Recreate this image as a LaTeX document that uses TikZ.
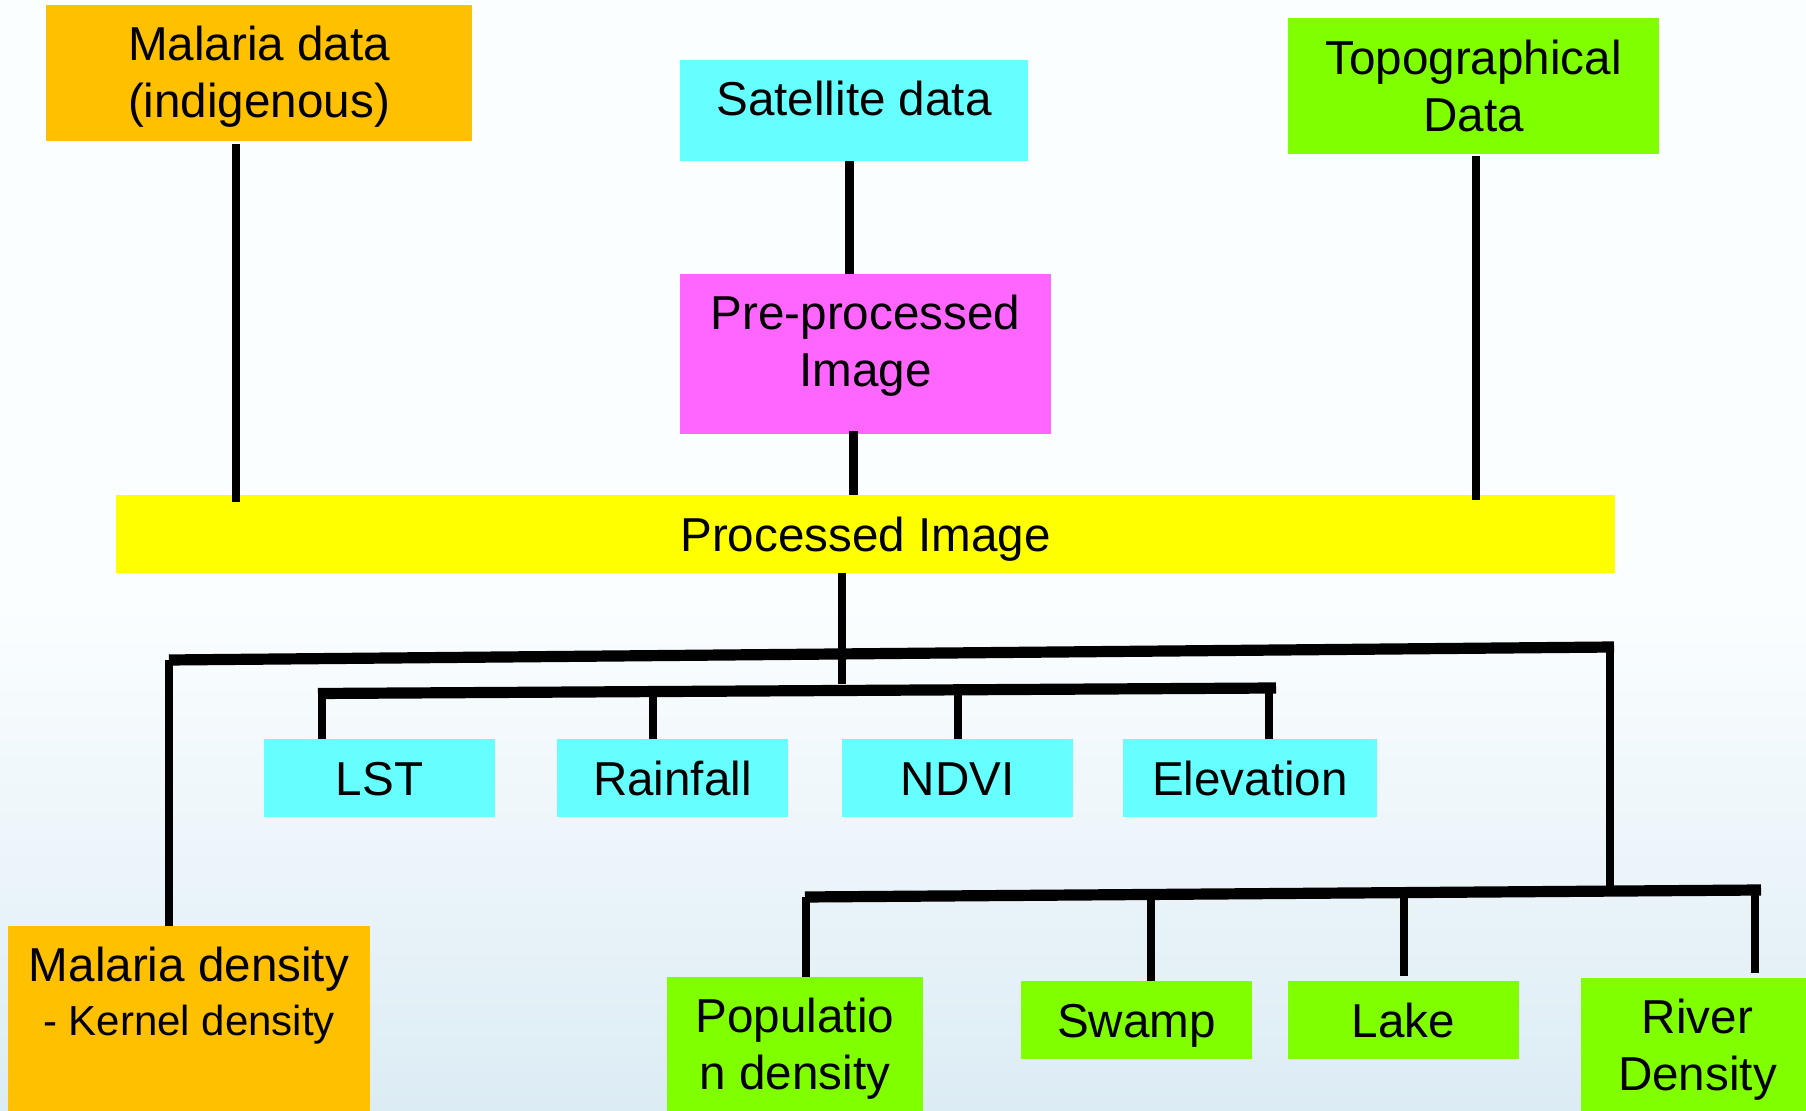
\documentclass[tikz,border=0pt]{standalone}
\usepackage{fontspec}
\setmainfont{Liberation Sans}
\definecolor{malorange}{HTML}{FFC000}
\definecolor{satcyan}{HTML}{66FFFF}
\definecolor{prepink}{HTML}{FF66FF}
\definecolor{procyellow}{HTML}{FFFF00}
\definecolor{topogreen}{HTML}{80FF00}
\definecolor{bgtop}{HTML}{FBFEFF}
\definecolor{bgbot}{HTML}{DCECF4}
% text hung from the top of its box
\newcommand{\topbox}[3]{\parbox[c][#1][t]{#2}{\centering #3}}
\tikzset{
  box/.style={inner sep=0pt, align=center, font=\fontsize{23.8pt}{28.5pt}\selectfont},
  oneline/.style={text height=18pt, text depth=0pt},
  link/.style={line width=4.25pt},
  bus/.style={line width=5.6pt}
}
\begin{document}
\begin{tikzpicture}[x=0.5pt,y=-0.5pt]
\useasboundingbox (0,0) rectangle (1806,1111);
% background
\fill[bgtop] (0,0) rectangle (1806,1111);
\shade[top color=bgtop, bottom color=bgbot] (0,600) rectangle (1806,1111);

% inputs
\node[box, fill=malorange, minimum width=213pt, minimum height=68pt] (malaria) at (259,73) {\topbox{47.3pt}{213pt}{Malaria data\\(indigenous)}};
\node[box, fill=satcyan, minimum width=174pt, minimum height=50.5pt, text height=12pt, text depth=6.5pt] (sat) at (854,110.5) {Satellite data};
\node[box, fill=topogreen, minimum width=185.5pt, minimum height=68pt] (topo) at (1473.5,86) {Topographical\\Data};
\node[box, fill=prepink, minimum width=185.5pt, minimum height=80pt] (pre) at (865.5,354) {\topbox{59pt}{185.5pt}{Pre-processed\\Image}};
\node[box, oneline, fill=procyellow, minimum width=749.5pt, minimum height=39pt] (proc) at (865.5,534) {Processed Image};

% variables
\node[box, oneline, fill=satcyan, minimum width=115.5pt, minimum height=39pt] (lst) at (379.5,778) {LST};
\node[box, oneline, fill=satcyan, minimum width=115.5pt, minimum height=39pt] (rain) at (672.5,778) {Rainfall};
\node[box, oneline, fill=satcyan, minimum width=115.5pt, minimum height=39pt] (ndvi) at (957.5,778) {NDVI};
\node[box, oneline, fill=satcyan, minimum width=127pt, minimum height=39pt] (elev) at (1250,778) {Elevation};

\node[box, fill=malorange, minimum width=181pt, minimum height=92.5pt] (malden) at (189,1018.5)
  {\parbox[c][71.5pt][t]{181pt}{\centering\fontsize{23.8pt}{27.2pt}\selectfont Malaria density\\{\fontsize{21pt}{27.2pt}\selectfont - Kernel density}}};
\node[box, fill=topogreen, minimum width=128pt, minimum height=67pt] (pop) at (795,1044) {\topbox{46.4pt}{128pt}{Populatio\\n density}};
\node[box, oneline, fill=topogreen, minimum width=115.5pt, minimum height=39pt] (swamp) at (1136.5,1020) {Swamp};
\node[box, oneline, fill=topogreen, minimum width=115.5pt, minimum height=39pt] (lake) at (1403.5,1020) {Lake};
\node[box, fill=topogreen, minimum width=116.5pt, minimum height=66.5pt] (river) at (1697.5,1044.5) {\topbox{45.5pt}{116.5pt}{River\\Density}};

% upper links
\draw[link] ([xshift=-11.5pt,yshift=-1.5pt]malaria.south) -- ([xshift=-11.5pt,yshift=-3.5pt]malaria.south |- proc.north);
\draw[link] ([xshift=-2.25pt]sat.south) -- ([xshift=-2.25pt]sat.south |- pre.north);
\draw[link] ([xshift=-6pt,yshift=1.5pt]pre.south) -- ([xshift=-6pt]pre.south |- proc.north);
\draw[link] ([xshift=1.25pt,yshift=-1pt]topo.south) -- ([xshift=1.25pt,yshift=-2.5pt]topo.south |- proc.north);

% bus lines
\coordinate (busL) at (169,660);
\coordinate (busR) at (1614,647);
\coordinate (subL) at (318,693.5);
\coordinate (subR) at (1276,688);
\coordinate (botL) at (805,897);
\coordinate (botR) at (1761,890);
\coordinate (proc-end) at (842,684);
\coordinate (drop-top) at (1610,647);
\coordinate (drop-bot) at (1610,891);
\draw[link] (proc-end |- proc.south) -- (proc-end);
\draw[bus] (busL) -- (busR);
\draw[bus] (subL) -- (subR);
\draw[bus] (botL) -- (botR);
\draw[link] (busL) -- (busL |- malden.north);
\draw[link] (drop-top) -- (drop-bot);

% ticks
\coordinate (t-lst) at (322,693);
\coordinate (t-rain) at (653,691.6);
\coordinate (t-ndvi) at (958,689.8);
\coordinate (t-elev) at (1269,688);
\coordinate (t-pop) at (806,897);
\coordinate (t-swamp) at (1151,894.5);
\coordinate (t-lake) at (1404,892.6);
\coordinate (t-river) at (1755,890);
\draw[link] (t-lst) -- (t-lst |- lst.north);
\draw[link] (t-rain) -- (t-rain |- rain.north);
\draw[link] (t-ndvi) -- (t-ndvi |- ndvi.north);
\draw[link] (t-elev) -- (t-elev |- elev.north);
\draw[link] (t-pop) -- (t-pop |- pop.north);
\draw[link] (t-swamp) -- (t-swamp |- swamp.north);
\draw[link] (t-lake) -- ([yshift=2.5pt]t-lake |- lake.north);
\draw[link] (t-river) -- ([yshift=2.5pt]t-river |- river.north);
\end{tikzpicture}
\end{document}
